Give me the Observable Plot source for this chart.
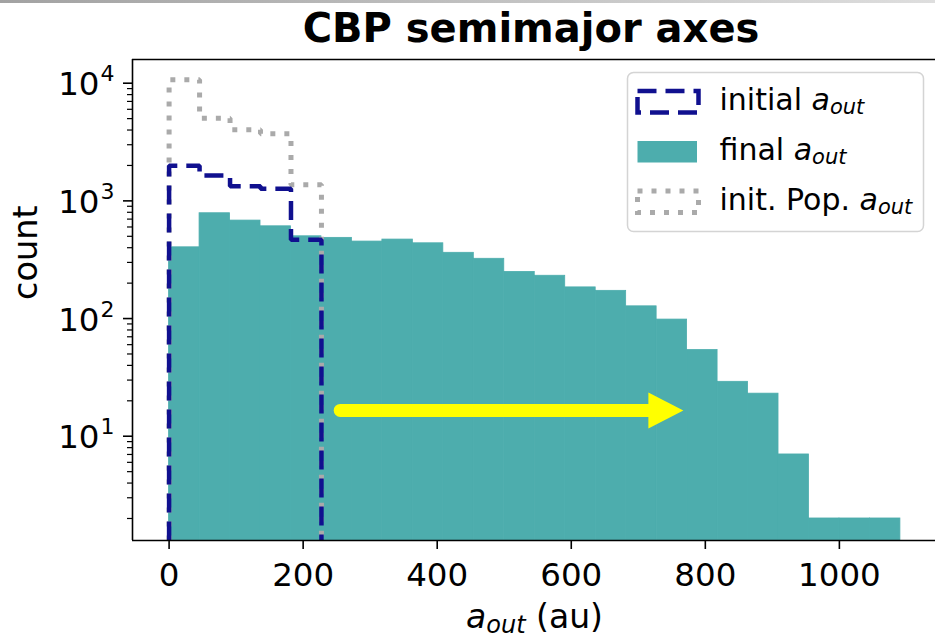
<!DOCTYPE html>
<html>
<head>
<meta charset="utf-8">
<script src="https://cdn.jsdelivr.net/npm/d3@7"></script>
<script src="https://cdn.jsdelivr.net/npm/@observablehq/plot@0.6"></script>
<style>
  html, body { margin: 0; padding: 0; background: #fff; overflow: hidden; }
  #chart { position: relative; width: 935px; height: 641px; }
  #chart svg { display: block; }
  .topbar { position: absolute; left: 0; top: 0; width: 935px; height: 3px;
            background: linear-gradient(to right, #a2a2a2, #dedede); z-index: 2; }
</style>
</head>
<body>
<div id="chart"><div class="topbar"></div></div>
<script>
// Histogram of circumbinary-planet semimajor axes (log counts)
const title = "CBP semimajor axes";
const binStart = 0;        // au, left edge of the first bin
const binWidth = 45.46;    // au, common bin width

// counts per bin
const finalCounts   = [403, 785, 680, 608, 500, 485, 451, 469, 436, 362, 322, 249,
                       231, 184, 172, 127, 98, 54, 29, 23, 7, 2, 2, 2];
const initialCounts = [1990, 1640, 1330, 1270, 467];
const popCounts     = [10700, 5040, 4020, 3720, 1370];

// axes
const xDomain = [-54.6, 1143.4];
const yDomain = [1.3, 15900];
const xTicks = [0, 200, 400, 600, 800, 1000];
const yMajorTicks = [10, 100, 1000, 10000];
const yMinorTicks = [2, 3, 4, 5, 6, 7, 8, 9, 20, 30, 40, 50, 60, 70, 80, 90,
                     200, 300, 400, 500, 600, 700, 800, 900,
                     2000, 3000, 4000, 5000, 6000, 7000, 8000, 9000];

// annotation arrow (au, count)
const arrowX = [256, 768];
const arrowY = 16.4;

const legendItems = [
  {label: "initial ", kind: "dashed"},
  {label: "final ", kind: "filled"},
  {label: "init. Pop. ", kind: "dotted"}
];

const teal = "#4dadad";
const navy = "#10108f";
const grey = "#aaaaaa";
const base = yDomain[0];
const fs = 32.5;     // tick label size
const legendFs = 30; // legend text size

const edge = i => binStart + i * binWidth;
const finalBins = finalCounts.map((c, i) => ({x1: edge(i), x2: edge(i + 1), count: c}));

// outline of a step histogram, closed down to the bottom of the axes
function stepOutline(counts) {
  const pts = [{x: edge(0), y: base}];
  counts.forEach((c, i) => { pts.push({x: edge(i), y: c}, {x: edge(i + 1), y: c}); });
  pts.push({x: edge(counts.length), y: base});
  return pts;
}

// yellow arrow with a filled head, placed through the plot scales
function arrowMark(index, scales) {
  const ns = "http://www.w3.org/2000/svg";
  const g = document.createElementNS(ns, "g");
  const xa = scales.x(arrowX[0]), xb = scales.x(arrowX[1]), yy = scales.y(arrowY);
  const headLen = 35, headHalf = 18;
  const shaft = document.createElementNS(ns, "line");
  shaft.setAttribute("x1", xa); shaft.setAttribute("x2", xb - headLen + 1);
  shaft.setAttribute("y1", yy); shaft.setAttribute("y2", yy);
  shaft.setAttribute("stroke", "#ffff00"); shaft.setAttribute("stroke-width", 13);
  shaft.setAttribute("stroke-linecap", "round");
  const head = document.createElementNS(ns, "path");
  head.setAttribute("d", `M${xb - headLen},${yy - headHalf}L${xb},${yy}L${xb - headLen},${yy + headHalf}Z`);
  head.setAttribute("fill", "#ffff00");
  g.appendChild(shaft); g.appendChild(head);
  return g;
}

const W = 935, H = 641, mL = 132, mR = 0, mT = 59, mB = 101;

const plot = Plot.plot({
  width: W, height: H,
  marginLeft: mL, marginRight: mR, marginTop: mT, marginBottom: mB,
  style: {fontFamily: "DejaVu Sans", fontSize: fs + "px", color: "#000", background: "transparent", overflow: "visible"},
  x: {domain: xDomain},
  y: {type: "log", domain: yDomain},
  marks: [
    Plot.rectY(finalBins, {x1: "x1", x2: "x2", y1: base, y2: "count", fill: teal, stroke: teal, strokeWidth: 0.8}),
    Plot.line(stepOutline(popCounts), {x: "x", y: "y", stroke: grey, strokeWidth: 5, strokeDasharray: "5,9", strokeLinejoin: "miter", strokeLinecap: "butt"}),
    Plot.line(stepOutline(initialCounts), {x: "x", y: "y", stroke: navy, strokeWidth: 4.5, strokeDasharray: "19,9", strokeLinejoin: "miter", strokeLinecap: "butt"}),
    arrowMark,
    Plot.ruleX([xDomain[0]], {stroke: "#000", strokeWidth: 1.6}),
    Plot.ruleY([yDomain[0], yDomain[1]], {stroke: "#000", strokeWidth: 1.6}),
    Plot.axisX({ticks: xTicks, tickSize: 9, tickPadding: 13, tickFormat: d => String(d), strokeWidth: 1.6, label: null}),
    Plot.axisY({ticks: yMajorTicks, tickSize: 9, tickFormat: () => "", strokeWidth: 1.6, label: null}),
    Plot.axisY({ticks: yMinorTicks, tickSize: 5, tickFormat: () => "", strokeWidth: 1.2, label: null}),
    // log tick labels: mantissa "10" plus a raised exponent
    Plot.text(yMajorTicks, {y: d => d, frameAnchor: "left", text: () => "10", textAnchor: "end", lineAnchor: "bottom", dx: -33, dy: 12, fill: "#000"}),
    Plot.text(yMajorTicks, {y: d => d, frameAnchor: "left", text: d => String(Math.round(Math.log10(d))), textAnchor: "start", lineAnchor: "bottom", dx: -32, dy: -2, fontSize: 22, fill: "#000"}),
    Plot.text([title], {text: d => d, frameAnchor: "top", lineAnchor: "bottom", dy: -18, dx: -3, fontSize: 40, fontWeight: "bold", fill: "#000"}),
    Plot.text(["count"], {text: d => d, frameAnchor: "left", rotate: -90, dx: -106, fontSize: 33.5, fill: "#000"})
  ]
});

document.getElementById("chart").appendChild(plot);

const svg = d3.select(plot);

// x-axis label: a_out (au)
const xl = svg.append("text")
  .attr("x", (mL + W - mR) / 2 + 1).attr("y", 628)
  .attr("text-anchor", "middle").attr("font-size", 33).attr("fill", "#000");
xl.append("tspan").attr("font-style", "italic").text("a");
xl.append("tspan").attr("font-style", "italic").attr("font-size", 24).attr("dy", 5).text("out");
xl.append("tspan").attr("dy", -5).text(" (au)");

// legend box
const lg = svg.append("g").attr("transform", "translate(627.5,72.5)");
lg.append("rect").attr("width", 296).attr("height", 159).attr("rx", 6)
  .attr("fill", "#fff").attr("fill-opacity", 0.8).attr("stroke", "#d4d4d4").attr("stroke-width", 1.5);
legendItems.forEach((item, i) => {
  const y0 = 18.5 + i * 50;
  const sw = lg.append("rect").attr("x", 10).attr("y", y0).attr("width", 61).attr("height", 21.5);
  if (item.kind === "dashed") sw.attr("fill", "none").attr("stroke", navy).attr("stroke-width", 4.5).attr("stroke-dasharray", "19,9");
  else if (item.kind === "dotted") sw.attr("fill", "none").attr("stroke", grey).attr("stroke-width", 5).attr("stroke-dasharray", "5,9");
  else sw.attr("width", 59.5).attr("fill", teal);
  const t = lg.append("text").attr("x", 92).attr("y", y0 + 18.5)
    .attr("text-anchor", "start").attr("font-size", legendFs).attr("fill", "#000");
  t.append("tspan").text(item.label);
  t.append("tspan").attr("font-style", "italic").text("a");
  t.append("tspan").attr("font-style", "italic").attr("font-size", 21).attr("dy", 4).text("out");
});
</script>
</body>
</html>
